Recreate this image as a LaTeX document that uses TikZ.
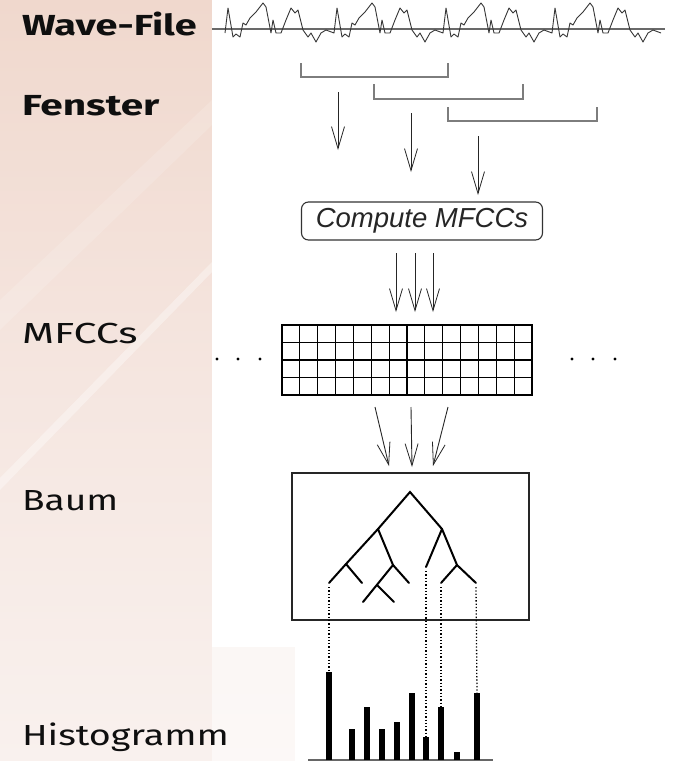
\documentclass[tikz,border=0pt]{standalone}
\usepackage{fontspec}
\setmainfont{Fira Sans}
\newfontfamily\helvfont{Liberation Sans}
\usetikzlibrary{positioning, arrows.meta}
\definecolor{bgpeach}{RGB}{240,216,205}
\definecolor{bgmid}{RGB}{245,230,224}
\definecolor{bgpale}{RGB}{249,241,238}
\definecolor{wavegray}{RGB}{55,55,55}
\definecolor{axisgray}{RGB}{105,105,105}
\definecolor{bracketgray}{RGB}{125,125,125}
\definecolor{labelblack}{RGB}{15,15,15}

\begin{document}
\begin{tikzpicture}[x=1pt, y=-1pt,
  every node/.style={inner sep=0pt, outer sep=0pt},
  rowlabel/.style={anchor=base west, text=labelblack,
    font=\fontsize{29}{30}\selectfont},
  boldlabel/.style={rowlabel, font=\fontsize{29}{30}\selectfont\bfseries},
  waveline/.style={draw=wavegray, line width=0.9pt, line join=round},
  axisline/.style={draw=axisgray, line width=1.4pt},
  bracket/.style={draw=bracketgray, line width=1.3pt},
  flowarrow/.style={-{Straight Barb[length=22pt, width=13pt, line width=0.8pt]},
    line width=0.9pt, draw=black!85},
  computebox/.style={draw=black!80, line width=1.1pt, rounded corners=7pt,
    minimum width=241pt, minimum height=38pt, text=black!85,
    font=\helvfont\itshape\fontsize{27.5}{27.5}\selectfont},
  gridline/.style={draw=black, line width=1.1pt},
  framebox/.style={draw=black!85, line width=1.2pt},
  treeline/.style={draw=black, line width=2pt, line cap=round},
  leafdots/.style={draw=black, line width=1.3pt, dotted},
  histobar/.style={draw=black, line width=6pt},
  histoaxis/.style={draw=black!60, line width=1.6pt}
]
\useasboundingbox (0,0) rectangle (687,761);

% ── Background ────────────────────────────────────────────────────────────────
\shade[top color=bgpeach, bottom color=bgpale, middle color=bgmid]
  (0,0) rectangle (687,761);
\fill[white, opacity=0.35] (0,478) -- (212,262) -- (212,272) -- (0,490) -- cycle;
\fill[white, opacity=0.15] (0,300) -- (212,100) -- (212,125) -- (0,330) -- cycle;
\fill[white] (212,0) rectangle (687,647);
\fill[white] (295,647) rectangle (687,761);
\fill[white, opacity=0.55] (212,647) rectangle (295,761);

% ── Row labels ────────────────────────────────────────────────────────────────
\node[boldlabel] (lblwave)    at (22,35)  {\scalebox{1.37}[1]{Wave-File}};
\node[boldlabel] (lblfenster) at (22,115) {\scalebox{1.40}[1]{Fenster}};
\node[rowlabel]  (lblmfcc)    at (22,343) {\scalebox{1.42}[1]{MFCCs}};
\node[rowlabel]  (lblbaum)    at (22,510) {\scalebox{1.28}[1]{Baum}};
\node[rowlabel]  (lblhisto)   at (22,745) {\scalebox{1.30}[1]{Histogramm}};

% ── Wave file ─────────────────────────────────────────────────────────────────
\draw[axisline] (212,29) -- (665,29);
\draw[waveline] (225,33)
  \foreach \p in {0,...,3}{
    \foreach \dx/\yy in {0/8, 5/37, 8/34, 12/37, 15/23, 18/25, 22/18, 25/15,
                         28/12, 35/3, 38/7, 43/33, 45/20, 48/33, 53/33, 58/20,
                         63/8, 67/13, 70/10, 75/30, 80/37, 83/33, 88/42, 93/33,
                         98/30, 106/33}{
      -- ({228+\p*109+\dx},\yy)
    }
  };

% ── Windows ───────────────────────────────────────────────────────────────────
\draw[bracket] (301,63) |- (448,77) -- ++(0,-14);
\draw[bracket] (374,84) |- (523,99) -- ++(0,-15);
\draw[bracket] (448,107) |- (597,121) -- ++(0,-14);

\coordinate (win1) at (338,92);   \coordinate (in1) at (338,150);
\coordinate (win2) at (411,113);  \coordinate (in2) at (411,172);
\coordinate (win3) at (478,136);  \coordinate (in3) at (478,195);
\foreach \i in {1,2,3}
  \draw[flowarrow] (win\i) -- (in\i);

% ── Compute MFCCs ─────────────────────────────────────────────────────────────
\node[computebox] (compute) at (422,221) {Compute MFCCs};

\coordinate (cout1) at (396,253); \coordinate (gin1) at (396,312);
\coordinate (cout2) at (415,253); \coordinate (gin2) at (415,312);
\coordinate (cout3) at (433,253); \coordinate (gin3) at (433,312);
\foreach \i in {1,2,3}
  \draw[flowarrow] (cout\i) -- (gin\i);

% ── MFCC grid ─────────────────────────────────────────────────────────────────
\node[gridline, draw, minimum width=250pt, minimum height=70pt]
  (mfccgrid) at (407,360) {};
\foreach \i in {1,...,13}
  \draw[gridline] ({282+\i*250/14},325) -- ++(0,70);
\foreach \j in {1,2,3}
  \draw[gridline] (282,{325+\j*17.5}) -- ++(250,0);
\foreach \x in {217,238,260,572,593,615}
  \fill (\x,359) circle (1.6pt);

\coordinate (gout1) at (375,407); \coordinate (tin1) at (389,466);
\coordinate (gout2) at (411,407); \coordinate (tin2) at (412,467);
\coordinate (gout3) at (448,407); \coordinate (tin3) at (433,466);
\foreach \i in {1,2,3}
  \draw[flowarrow] (gout\i) -- (tin\i);

% ── Tree ──────────────────────────────────────────────────────────────────────
\node[framebox, minimum width=237pt, minimum height=147pt]
  (treebox) at (410.5,546.5) {};

\coordinate (root) at (410,492);
\coordinate (tl)   at (378,529);
\coordinate (tr)   at (442,529);
\coordinate (tll)  at (346,564);
\coordinate (tlr)  at (393,565);
\coordinate (tlrm) at (377,585);
\coordinate (trr)  at (457,565);
\coordinate (leafa) at (329,583);
\coordinate (leafb) at (426,567);
\coordinate (leafc) at (441,583);
\coordinate (leafd) at (476,583);

\draw[treeline] (leafa) -- (tll) -- (tl) -- (root) -- (tr) -- (trr) -- (leafd);
\draw[treeline] (tll) -- (362,583);
\draw[treeline] (tl) -- (tlr) -- (409,583);
\draw[treeline] (tlr) -- (363,602);
\draw[treeline] (tlrm) -- (394,602);
\draw[treeline] (tr) -- (leafb);
\draw[treeline] (trr) -- (leafc);

% ── Histogram ─────────────────────────────────────────────────────────────────
\draw[histoaxis] (308,760) -- (493,760);
\foreach \x/\top [count=\i] in {329/672, 352/729, 367/707, 382/729, 397/722,
                               412/693, 426/737, 441/707, 457/752, 477/693}
  \draw[histobar] (\x,760) -- (\x,\top) coordinate (bar\i);

\draw[leafdots] ([yshift=-4pt]leafa) -- (bar1);
\draw[leafdots] ([yshift=-4pt]leafb) -- (bar7);
\draw[leafdots] ([yshift=-4pt]leafc) -- (bar8);
\draw[leafdots] ([yshift=-4pt]leafd) -- (bar10);

\end{tikzpicture}
\end{document}
